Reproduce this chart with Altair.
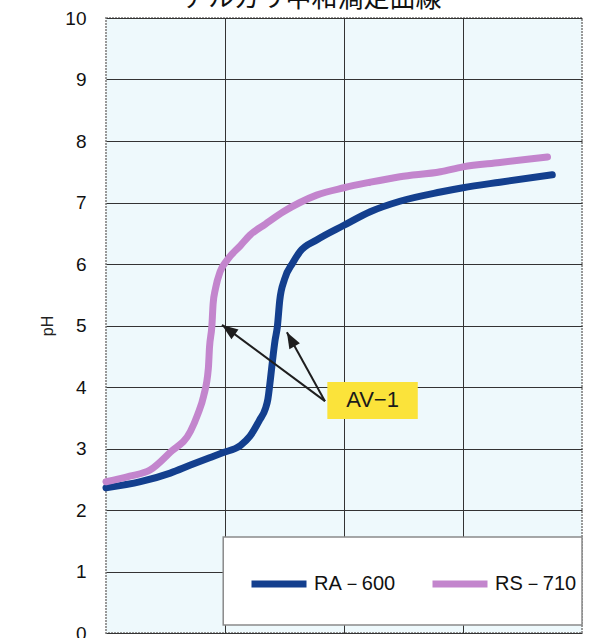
import altair as alt
import pandas as pd

# RS-710 (pink) series
rs_x = [0, 2.0, 3.7, 5.4, 7.1, 7.7, 8.2, 8.6, 8.7, 8.9, 9.0, 9.2, 9.6, 10.2, 11.3, 12.1,
        13.4, 14.9, 16.3, 17.7, 20.0, 22.2, 24.7, 28.1, 30.0, 33.1, 37.1]
rs_y = [2.46, 2.55, 2.65, 2.94, 3.28, 3.55, 3.85, 4.3, 4.65, 5.0, 5.35, 5.6, 5.88, 6.07, 6.3,
        6.47, 6.65, 6.85, 7.0, 7.12, 7.24, 7.33, 7.42, 7.5, 7.58, 7.65, 7.74]

# RA-600 (blue) series
ra_x = [0, 2.9, 5.4, 7.1, 8.7, 9.8, 11.3, 12.1, 12.9, 13.4, 13.6, 13.8, 14.0, 14.2, 14.4,
        14.6, 15.0, 15.7, 16.3, 17.7, 20.0, 22.2, 24.7, 28.1, 30.0, 33.1, 37.5]
ra_y = [2.36, 2.46, 2.6, 2.73, 2.85, 2.93, 3.05, 3.2, 3.46, 3.65, 3.8, 4.1, 4.44, 4.75,
        4.98, 5.41, 5.75, 6.02, 6.2, 6.39, 6.63, 6.85, 7.02, 7.17, 7.24, 7.33, 7.45]

series_names = ["RA－600", "RS－710"]
series_colors = ["#133f8e", "#c385cd"]

# legend box (data coordinates)
legend_box = {"x": [9.85], "x2": [40.0], "y": [1.56], "y2": [0.13]}

# annotation "AV-1"
label_text = "AV−1"
label_box_x = [18.6]
label_box_x2 = [26.2]
label_box_y = [4.08]
label_box_y2 = [3.48]
label_pos = [22.4, 3.79]
arrow_tail = [18.4, 3.77]
arrow_tips_x = [9.75, 15.2]
arrow_tips_y = [5.01, 4.89]
arrow_angles = [306, 331]

# chart title (cut off at the top edge in the reference)
title_text = ["アルカリ中和滴定曲線"]

df = pd.concat([
    pd.DataFrame({"x": ra_x, "y": ra_y, "s": series_names[0], "o": range(len(ra_x))}),
    pd.DataFrame({"x": rs_x, "y": rs_y, "s": series_names[1], "o": range(len(rs_x))}),
])

xs = alt.Scale(domain=[0, 40], nice=False, zero=False)
ys = alt.Scale(domain=[0, 10], nice=False)

base_x = alt.X("x:Q", scale=xs,
               axis=alt.Axis(values=[10, 20, 30], labels=False, ticks=False, domain=False,
                             title=None, grid=True, gridColor="#333333", gridWidth=1))
base_y = alt.Y("y:Q", scale=ys,
               axis=alt.Axis(values=list(range(0, 11)), format="d", ticks=False, domain=False,
                             grid=True, gridColor="#333333", gridWidth=1, title="pH",
                             labelFont="Liberation Sans", labelFontSize=19, labelColor="#111",
                             labelPadding=20, titleFont="Liberation Sans", titleFontSize=16,
                             titleFontWeight="normal", titleColor="#222", titlePadding=9))

lbox = alt.Chart(pd.DataFrame(legend_box)).mark_rect(
    fill="white", stroke="#8a8a8a", strokeWidth=1.5).encode(
    x=alt.X("x:Q", scale=xs), x2="x2:Q", y=alt.Y("y:Q", scale=ys), y2="y2:Q")

lines = alt.Chart(df).mark_line(strokeWidth=7, strokeCap="round", strokeJoin="round",
                                interpolate="monotone").encode(
    x=base_x, y=base_y,
    color=alt.Color("s:N", scale=alt.Scale(domain=series_names, range=series_colors),
                    title=None,
                    legend=alt.Legend(orient="none", legendX=142, legendY=535,
                                      direction="horizontal", padding=0,
                                      symbolType="stroke", symbolSize=3025,
                                      symbolStrokeWidth=7, labelFontSize=20,
                                      labelFont="Liberation Sans", labelColor="#111",
                                      labelOffset=4, columnPadding=22)),
    order="o:Q",
)

box_df = pd.DataFrame({"x": label_box_x, "x2": label_box_x2, "y": label_box_y, "y2": label_box_y2})
box = alt.Chart(box_df).mark_rect(color="#fbe33a").encode(
    x=alt.X("x:Q", scale=xs), x2="x2:Q", y=alt.Y("y:Q", scale=ys), y2="y2:Q")

txt_df = pd.DataFrame({"x": [label_pos[0]], "y": [label_pos[1]], "t": [label_text]})
txt = alt.Chart(txt_df).mark_text(font="Liberation Sans", fontSize=22, color="#1a1a1a").encode(
    x=alt.X("x:Q", scale=xs), y=alt.Y("y:Q", scale=ys), text="t:N")

arr_df = pd.DataFrame({"x": [arrow_tail[0]] * 2, "y": [arrow_tail[1]] * 2,
                       "x2": arrow_tips_x, "y2": arrow_tips_y, "ang": arrow_angles})
shafts = alt.Chart(arr_df).mark_rule(color="#1e1e1e", strokeWidth=2).encode(
    x=alt.X("x:Q", scale=xs), y=alt.Y("y:Q", scale=ys), x2="x2:Q", y2="y2:Q")
heads = alt.Chart(arr_df).mark_point(shape="M0,0 L0.6,1.6 L-0.6,1.6 Z", filled=True,
                                     size=400, color="#1e1e1e", opacity=1).encode(
    x=alt.X("x2:Q", scale=xs), y=alt.Y("y2:Q", scale=ys),
    angle=alt.Angle("ang:Q", scale=None))

ttl = alt.Chart(pd.DataFrame({"t": title_text})).mark_text(
    font="Noto Sans CJK JP", fontSize=26, color="#111", baseline="bottom", align="center"
).encode(x=alt.value(206), y=alt.value(-6), text="t:N")

chart = alt.layer(lbox, lines, box, txt, shafts, heads, ttl).properties(
    width=476, height=615,
    padding={"left": 106, "top": 18, "right": 13, "bottom": 5},
    autosize=alt.AutoSizeParams(type="none"),
).configure(
    background="white",
    view=alt.ViewConfig(fill="#eef9fc", stroke="#999999", strokeWidth=2, strokeDash=[2, 1]),
)

chart.save("out.html", embed_options={"renderer": "svg", "actions": False})
